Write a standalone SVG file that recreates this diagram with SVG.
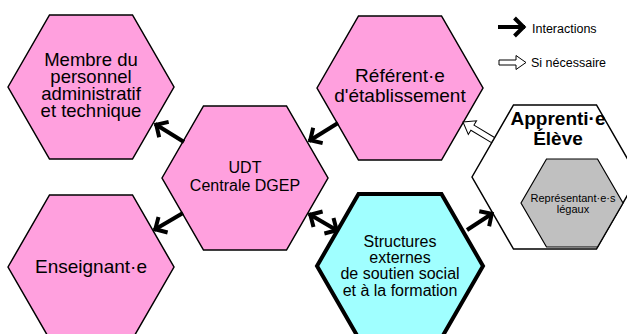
<svg xmlns="http://www.w3.org/2000/svg" width="627" height="334" viewBox="0 0 627 334">
  <style>
    .hex { fill: #ffa0de; stroke: #000; stroke-width: 1.5; stroke-linejoin: miter; }
    .ext { fill: #a0ffff; stroke: #000; stroke-width: 4; }
    .app { fill: #fff; stroke: #000; stroke-width: 1.5; }
    .rep { fill: #c0c0c0; stroke: #000; stroke-width: 1.2; }
    text { font-family: "Liberation Sans", Arial, sans-serif; fill: #000; text-anchor: middle; }
    .t19 { font-size: 19px; }
    .t18 { font-size: 18.5px; }
    .t16 { font-size: 16px; }
    .b19 { font-size: 19px; font-weight: bold; }
    .t11 { font-size: 11px; }
    .leg { font-size: 12.5px; text-anchor: start; }
    .arr { stroke: #000; stroke-width: 4; fill: none; }
    .hollow { fill: #fff; stroke: #000; stroke-width: 1; stroke-linejoin: miter; }
  </style>
  <defs>
    <marker id="head" markerUnits="userSpaceOnUse" viewBox="-14 -14 20 28" refX="1.5" refY="0" markerWidth="20" markerHeight="28" orient="auto-start-reverse">
      <path d="M-9,-9 L0,0 L-9,9" fill="none" stroke="#000" stroke-width="4"/>
    </marker>
  </defs>

  <rect width="627" height="334" fill="#fff"/>

  <g id="membre">
    <polygon class="hex" points="8,87 49.5,15 132.5,15 174,87 132.5,159 49.5,159"/>
    <text class="t18" x="91" y="65.5">Membre du</text>
    <text class="t18" x="91" y="82.5">personnel</text>
    <text class="t18" x="91" y="99.5">administratif</text>
    <text class="t18" x="91" y="116.5">et technique</text>
  </g>

  <g id="enseignant">
    <polygon class="hex" points="8,267 49.5,195 132.5,195 174,267 132.5,339 49.5,339"/>
    <text class="t19" x="91" y="273">Enseignant·e</text>
  </g>

  <g id="udt">
    <polygon class="hex" points="162,178 203.5,106 286.5,106 328,178 286.5,250 203.5,250"/>
    <text class="t16" x="245" y="173">UDT</text>
    <text class="t16" x="245" y="191">Centrale DGEP</text>
  </g>

  <g id="referent">
    <polygon class="hex" points="317,88 358.5,16 441.5,16 483,88 441.5,160 358.5,160"/>
    <text class="t19" x="400" y="82">Référent·e</text>
    <text class="t19" x="400" y="102">d'établissement</text>
  </g>

  <g id="structures">
    <polygon class="ext" points="317,266 358.5,194 441.5,194 483,266 441.5,338 358.5,338"/>
    <text class="t16" x="400" y="246.5">Structures</text>
    <text class="t16" x="400" y="263">externes</text>
    <text class="t16" x="400" y="279">de soutien social</text>
    <text class="t16" x="400" y="295.5">et à la formation</text>
  </g>

  <g id="apprenti">
    <polygon class="app" points="472,177 513.5,105 596.5,105 638,177 596.5,249 513.5,249"/>
    <text class="b19" x="558" y="125">Apprenti·e</text>
    <text class="b19" x="558" y="145">Élève</text>
  </g>

  <g id="representants">
    <polygon class="rep" points="521,203 546.5,159 597.5,159 623,203 597.5,247 546.5,247"/>
    <text class="t11" x="573" y="202">Représentant·e·s</text>
    <text class="t11" x="573" y="213">légaux</text>
  </g>

  <g id="connectors">
    <line class="arr" x1="184" y1="142" x2="155" y2="124" marker-end="url(#head)"/>
    <line class="arr" x1="183" y1="213" x2="154" y2="230" marker-end="url(#head)"/>
    <line class="arr" x1="338" y1="123" x2="309" y2="141" marker-end="url(#head)"/>
    <line class="arr" x1="309" y1="214" x2="338" y2="231" marker-start="url(#head)" marker-end="url(#head)"/>
    <line class="arr" x1="467" y1="230" x2="493" y2="213" marker-end="url(#head)"/>
    <polygon class="hollow" transform="translate(463,122) rotate(211)" points="0,0 -11,-8 -11,-3 -35,-3 -35,3 -11,3 -11,8"/>
  </g>

  <g id="legend">
    <line class="arr" x1="498" y1="27" x2="525" y2="27" marker-end="url(#head)"/>
    <text class="leg" x="532" y="32.5">Interactions</text>
    <polygon class="hollow" transform="translate(526,62.5)" points="0,0 -10,-7 -10,-2.5 -27,-2.5 -27,2.5 -10,2.5 -10,7"/>
    <text class="leg" x="531" y="66.5">Si nécessaire</text>
  </g>
</svg>
